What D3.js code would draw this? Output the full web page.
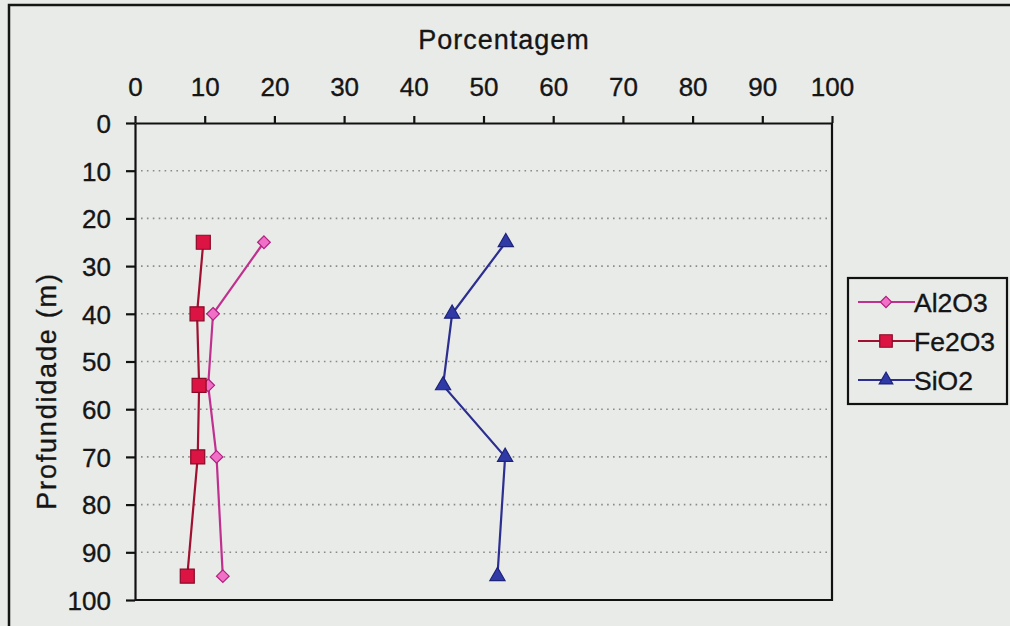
<!DOCTYPE html>
<html>
<head>
<meta charset="utf-8">
<script src="https://cdn.jsdelivr.net/npm/d3@7"></script>
<style>
  html, body { margin: 0; padding: 0; background: #e9ebe8; }
  svg { display: block; }
  text { font-family: "Liberation Sans", Arial, sans-serif; fill: #151515; stroke: #151515; stroke-width: 0.35px; }
</style>
</head>
<body>
<svg id="chart" width="1010" height="626"></svg>
<script>
// Depth profile of oxide content
const depths = [25, 40, 55, 70, 95];
const al2o3 = [18.5, 11.2, 10.5, 11.7, 12.6];
const fe2o3 = [9.8, 8.9, 9.2, 9.0, 7.5];
const sio2 = [53.2, 45.5, 44.2, 53.1, 52.0];
const seriesNames = ["Al2O3", "Fe2O3", "SiO2"];
const xTicks = [0, 10, 20, 30, 40, 50, 60, 70, 80, 90, 100];
const yTicks = [0, 10, 20, 30, 40, 50, 60, 70, 80, 90, 100];

// square diamond (a square turned 45 degrees)
const symbolRhombus = {
  draw(ctx, size) {
    const r = Math.sqrt(size / 2);
    ctx.moveTo(0, -r); ctx.lineTo(r, 0); ctx.lineTo(0, r); ctx.lineTo(-r, 0); ctx.closePath();
  }
};

const series = [
  { name: seriesNames[0], values: al2o3, line: "#c0308f", fill: "#f070c8", stroke: "#b0207f", shape: symbolRhombus, size: 80 },
  { name: seriesNames[1], values: fe2o3, line: "#a01030", fill: "#dc1444", stroke: "#8a0a28", shape: d3.symbolSquare, size: 196 },
  { name: seriesNames[2], values: sio2, line: "#2c2f8f", fill: "#2f3aa6", stroke: "#1e237a", shape: d3.symbolTriangle, size: 100 }
];

const svg = d3.select("#chart");
const plotL = 135, plotR = 832, plotT = 123, plotB = 600;

const x = d3.scaleLinear().domain([0, 100]).range([plotL, plotR]);
const y = d3.scaleLinear().domain([0, 100]).range([plotT, plotB]);

// outer frame
svg.append("path")
  .attr("d", `M9,640 L9,5 L1020,5`)
  .attr("fill", "none").attr("stroke", "#151515").attr("stroke-width", 2.5);

// dotted gridlines
svg.append("g").selectAll("line")
  .data(yTicks.filter(t => t > 0 && t < 100))
  .join("line")
  .attr("x1", plotL + 6).attr("x2", plotR - 3)
  .attr("y1", d => y(d)).attr("y2", d => y(d))
  .attr("stroke", "#8a8a8a").attr("stroke-width", 1.6)
  .attr("stroke-dasharray", "1.6,4.3");

// right and bottom plot border
svg.append("path")
  .attr("d", `M${plotR},${plotT} L${plotR},${plotB} L${plotL},${plotB}`)
  .attr("fill", "none").attr("stroke", "#111").attr("stroke-width", 2.2);

// top axis
const xAxis = svg.append("g")
  .attr("transform", `translate(0,${plotT})`)
  .call(d3.axisTop(x).tickValues(xTicks).tickSize(7).tickPadding(20).tickSizeOuter(0));
// left axis
const yAxis = svg.append("g")
  .attr("transform", `translate(${plotL},0)`)
  .call(d3.axisLeft(y).tickValues(yTicks).tickSize(9).tickPadding(15).tickSizeOuter(0));

[xAxis, yAxis].forEach(a => {
  a.select(".domain").attr("stroke", "#111").attr("stroke-width", 2.2);
  a.selectAll(".tick line").attr("stroke", "#111").attr("stroke-width", 2.2);
  a.selectAll(".tick text")
    .attr("font-size", 26)
    .attr("font-family", "Liberation Sans, Arial, sans-serif")
    .attr("fill", "#151515");
});
xAxis.selectAll(".tick text").attr("dy", "0");
yAxis.selectAll(".tick text").attr("dy", "0.36em");

// axis titles
svg.append("text")
  .attr("x", 504).attr("y", 49)
  .attr("text-anchor", "middle")
  .attr("font-size", 27)
  .attr("letter-spacing", 1.0)
  .text("Porcentagem");

svg.append("text")
  .attr("transform", `translate(56,391) rotate(-90)`)
  .attr("text-anchor", "middle")
  .attr("font-size", 27)
  .attr("letter-spacing", 1.8)
  .text("Profundidade (m)");

// lines and markers
const line = d3.line().x(d => x(d[0])).y(d => y(d[1]));
series.forEach(s => {
  const pts = s.values.map((v, i) => [v, depths[i]]);
  svg.append("path")
    .datum(pts)
    .attr("d", line)
    .attr("fill", "none")
    .attr("stroke", s.line)
    .attr("stroke-width", 2.2);
  svg.append("g").selectAll("path")
    .data(pts)
    .join("path")
    .attr("transform", d => `translate(${x(d[0])},${y(d[1])})`)
    .attr("d", d3.symbol().type(s.shape).size(s.size))
    .attr("fill", s.fill)
    .attr("stroke", s.stroke)
    .attr("stroke-width", 1.2);
});

// legend
const lg = svg.append("g");
lg.append("rect")
  .attr("x", 848).attr("y", 278).attr("width", 159).attr("height", 126)
  .attr("fill", "#e9ebe8").attr("stroke", "#111").attr("stroke-width", 2.2);
series.forEach((s, i) => {
  const ly = 302 + i * 39;
  lg.append("line")
    .attr("x1", 858).attr("x2", 915).attr("y1", ly).attr("y2", ly)
    .attr("stroke", s.line).attr("stroke-width", 2.2);
  lg.append("path")
    .attr("transform", `translate(886,${ly})`)
    .attr("d", d3.symbol().type(s.shape).size(s.size * 0.8))
    .attr("fill", s.fill).attr("stroke", s.stroke).attr("stroke-width", 1.2);
  lg.append("text")
    .attr("x", 914).attr("y", ly).attr("dy", "0.36em")
    .attr("font-size", 26.5)
    .text(s.name);
});
</script>
</body>
</html>
